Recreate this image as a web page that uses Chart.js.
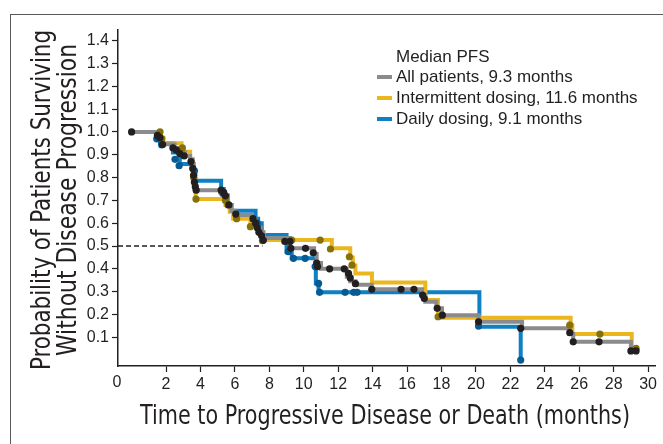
<!DOCTYPE html>
<html>
<head>
<meta charset="utf-8">
<script src="https://cdn.jsdelivr.net/npm/chart.js@4.4.1/dist/chart.umd.min.js"></script>
<style>
  html, body { margin: 0; padding: 0; background: #fff; }
  #wrap { position: relative; width: 663px; height: 444px; overflow: hidden; }
  #frame { position: absolute; left: 10px; top: 14px; width: 700px; height: 500px; border: 1.5px solid #58595b; }
  #km { position: absolute; left: 0; top: 0; }
</style>
</head>
<body>
<div id="wrap">
  <div id="frame"></div>
  <canvas id="km" width="663" height="444"></canvas>
</div>
<script>
// series labels + colours
const seriesNames = ['All patients, 9.3 months', 'Intermittent dosing, 11.6 months', 'Daily dosing, 9.1 months'];
const lineColors = ['#8b8b8d', '#ebb71f', '#0f80c3'];
const dotColors = ['#231f20', '#86700a', '#075a92'];
const xTitle = 'Time to Progressive Disease or Death (months)';
const yTitle = ['Probability of Patients Surviving', 'Without Disease Progression'];

// all patients: KM steps (time in months, probability after the step)
const allT = [0, 1.65, 1.8, 2.5, 2.8, 3.1, 3.4, 3.55, 3.6, 3.65, 3.72, 5.15, 5.35, 5.6, 5.8, 6.0, 7.0, 7.2, 7.35, 7.5, 7.65, 9.2, 10.6, 10.75, 11.0, 12.5, 12.7, 13.0, 13.95, 16.87, 17.06, 17.7, 18.03, 20.16, 22.68, 25.45, 25.65, 29.0, 29.4];
const allS = [1.0, 0.97, 0.946, 0.93, 0.91, 0.895, 0.88, 0.85, 0.82, 0.79, 0.745, 0.735, 0.72, 0.68, 0.655, 0.636, 0.62, 0.6, 0.58, 0.56, 0.535, 0.49, 0.465, 0.425, 0.40, 0.365, 0.345, 0.33, 0.31, 0.285, 0.256, 0.227, 0.197, 0.168, 0.139, 0.114, 0.08, 0.04, 0.04];
const allCensT = [0, 1.5, 1.65, 1.8, 2.4, 2.6, 2.8, 3.05, 3.45, 3.55, 3.6, 3.65, 3.7, 3.75, 5.2, 5.35, 5.45, 5.65, 6.05, 7.05, 7.2, 7.3, 7.4, 7.55, 7.65, 8.9, 9.2, 9.25, 10.1, 10.55, 10.75, 10.8, 11.5, 12.35, 12.6, 12.7, 13.0, 13.95, 15.65, 16.4, 16.9, 17.0, 17.75, 18.05, 20.15, 22.6, 25.45, 25.65, 27.15, 29.0, 29.3];
const allCensS = [1.0, 0.985, 0.975, 0.945, 0.93, 0.92, 0.905, 0.895, 0.87, 0.84, 0.81, 0.78, 0.76, 0.745, 0.745, 0.735, 0.72, 0.68, 0.64, 0.62, 0.6, 0.58, 0.56, 0.545, 0.525, 0.52, 0.52, 0.49, 0.49, 0.47, 0.425, 0.41, 0.40, 0.40, 0.38, 0.36, 0.335, 0.31, 0.31, 0.31, 0.285, 0.27, 0.227, 0.197, 0.168, 0.139, 0.12, 0.08, 0.08, 0.04, 0.04];

// intermittent dosing
const intT = [0, 1.7, 1.85, 2.9, 3.4, 3.55, 3.65, 3.72, 5.45, 5.7, 5.9, 6.9, 7.3, 7.66, 11.63, 12.7, 12.85, 13.0, 13.96, 17.06, 17.8, 25.5, 25.6, 29.05, 29.4];
const intS = [1.0, 0.975, 0.95, 0.913, 0.87, 0.82, 0.76, 0.706, 0.68, 0.65, 0.62, 0.585, 0.56, 0.526, 0.49, 0.45, 0.415, 0.38, 0.34, 0.263, 0.185, 0.153, 0.114, 0.051, 0.051];
const intCensT = [1.65, 1.75, 2.95, 3.6, 3.74, 5.45, 5.6, 6.1, 6.9, 7.6, 9.3, 10.95, 11.55, 12.65, 12.8, 17.8, 25.45, 27.2, 29.3];
const intCensS = [1.0, 0.97, 0.93, 0.8, 0.706, 0.7, 0.68, 0.62, 0.585, 0.523, 0.526, 0.526, 0.487, 0.453, 0.416, 0.19, 0.153, 0.114, 0.051];

// daily dosing
const dayT = [0, 1.45, 1.65, 2.4, 2.8, 3.6, 3.7, 5.2, 5.35, 5.6, 5.8, 7.2, 7.35, 7.56, 9.0, 9.3, 10.7, 10.86, 20.2, 22.6];
const dayS = [1.0, 0.97, 0.95, 0.91, 0.86, 0.82, 0.786, 0.75, 0.72, 0.68, 0.655, 0.62, 0.6, 0.548, 0.475, 0.446, 0.336, 0.297, 0.146, 0.0];
const dayCensT = [1.46, 1.75, 2.52, 2.76, 3.65, 5.3, 7.3, 9.1, 9.4, 10.08, 10.66, 10.86, 10.92, 12.4, 12.9, 13.1, 20.15, 22.6];
const dayCensS = [0.97, 0.943, 0.88, 0.852, 0.83, 0.73, 0.6, 0.475, 0.446, 0.446, 0.41, 0.336, 0.297, 0.297, 0.297, 0.297, 0.149, 0.0];

// dashed median guide
const medianT = [-0.79, 7.6];
const medianS = [0.5, 0.5];

// axes
const xTicks = [2, 4, 6, 8, 10, 12, 14, 16, 18, 20, 22, 24, 26, 28, 30];
const yTicks = [0.1, 0.2, 0.3, 0.4, 0.5, 0.6, 0.7, 0.8, 0.9, 1.0, 1.1, 1.2, 1.3, 1.4];

const ink = '#231f20';
const narrow = '"Liberation Sans Narrow", "DejaVu Sans Condensed", sans-serif';
const pts = (xs, ys) => xs.map((x, i) => ({ x: x, y: ys[i] }));

function stepSet(xs, ys, color, order) {
    return { data: pts(xs, ys), showLine: true, stepped: true, borderColor: color, borderWidth: 4,
             pointRadius: 0, fill: false, order: order };
}
function dotSet(xs, ys, color) {
    return { data: pts(xs, ys), showLine: false, pointRadius: 3.6, pointBackgroundColor: color,
             pointBorderWidth: 0, clip: false, order: 0 };
}

const overlay = {
    id: 'overlay',
    afterDraw(chart) {
        const ctx = chart.ctx;
        ctx.save();
        ctx.font = '17px "Liberation Sans", Arial, sans-serif';
        ctx.textBaseline = 'middle';
        ctx.fillStyle = ink;
        ctx.fillText('Median PFS', 396, 57);
        seriesNames.forEach((name, i) => {
            const y = 77 + i * 21;
            ctx.fillStyle = lineColors[i];
            ctx.fillRect(377, y - 2, 15, 4);
            ctx.fillStyle = ink;
            ctx.fillText(name, 396, y);
        });
        // shared zero in the corner
        ctx.font = '16px "Liberation Sans", Arial, sans-serif';
        ctx.textAlign = 'center';
        ctx.fillText('0', chart.scales.x.left - 1, 383);

        // axis titles, condensed to the widths in the original
        ctx.font = '27px ' + narrow;
        ctx.fillText(xTitle, 385, 417, 490);
        ctx.translate(0, 200);
        ctx.rotate(-Math.PI / 2);
        ctx.fillText(yTitle[0], 0, 43, 340);
        ctx.fillText(yTitle[1], 0, 69, 312);
        ctx.restore();
    }
};

new Chart(document.getElementById('km'), {
    type: 'scatter',
    data: {
        datasets: [
            dotSet(allCensT, allCensS, dotColors[0]),
            dotSet(intCensT, intCensS, dotColors[1]),
            dotSet(dayCensT, dayCensS, dotColors[2]),
            stepSet(allT, allS, lineColors[0], 1),
            stepSet(intT, intS, lineColors[1], 2),
            stepSet(dayT, dayS, lineColors[2], 3),
            { data: pts(medianT, medianS), showLine: true, borderColor: ink, borderWidth: 1.3,
              borderDash: [5, 3], pointRadius: 0, order: 4 }
        ]
    },
    options: {
        responsive: false,
        animation: false,
        devicePixelRatio: 1,
        layout: { padding: { top: 30, right: 8, left: 0, bottom: 0 } },
        plugins: { legend: { display: false }, tooltip: { enabled: false } },
        scales: {
            x: {
                type: 'linear', min: -0.79, max: 30.4,
                afterBuildTicks: s => { s.ticks = xTicks.map(v => ({ value: v })); },
                afterFit: s => { s.height = 78; },
                ticks: { color: ink, font: { family: '"Liberation Sans", Arial', size: 16 }, padding: 3, autoSkip: false, maxRotation: 0 },
                grid: { drawOnChartArea: false, drawTicks: true, tickLength: 6, tickColor: ink, tickWidth: 1.2 },
                border: { display: true, color: ink, width: 1.5 }
            },
            y: {
                type: 'linear', min: -0.026, max: 1.447,
                afterBuildTicks: s => { s.ticks = yTicks.map(v => ({ value: v })); },
                afterFit: s => { s.width = 118; },
                ticks: { color: ink, font: { family: '"Liberation Sans", Arial', size: 16 }, padding: 3, autoSkip: false,
                         callback: v => v.toFixed(1) },
                grid: { drawOnChartArea: false, drawTicks: true, tickLength: 6, tickColor: ink, tickWidth: 1.2 },
                border: { display: true, color: ink, width: 1.5 }
            }
        }
    },
    plugins: [overlay]
});
</script>
</body>
</html>
